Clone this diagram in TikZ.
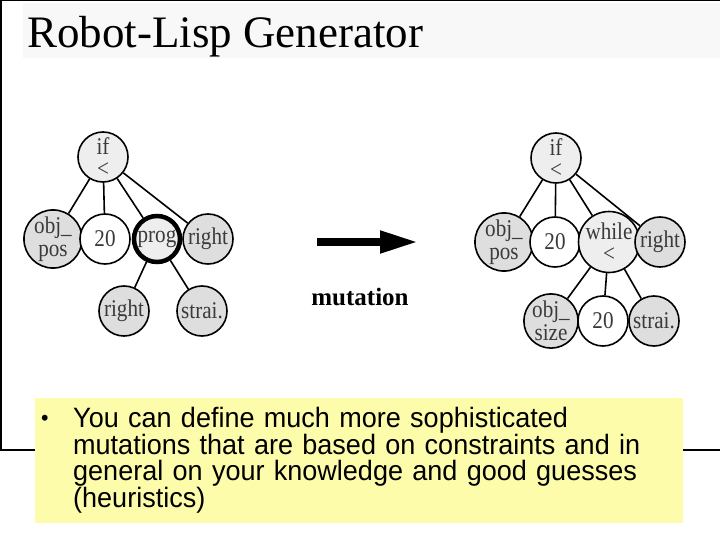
\documentclass[tikz,border=0pt]{standalone}
\usepackage{fontspec}
\setmainfont{Liberation Serif}
\newfontfamily\arialf[FakeStretch=0.965]{Liberation Sans}
\newfontfamily\nodef[FakeStretch=0.88]{Liberation Serif}
\usetikzlibrary{arrows.meta}
\definecolor{titlegray}{HTML}{F8F8F8}
\definecolor{boxyellow}{RGB}{252,252,170}
\definecolor{leafgray}{HTML}{DEDEDE}
\definecolor{innergray}{HTML}{EEEEEE}
\definecolor{txtgray}{HTML}{3A3A3A}
\begin{document}
\begin{tikzpicture}[x=1pt,y=-1pt,
  tn/.style={circle, draw=black, line width=1.6pt, minimum size=50pt, inner sep=0pt,
    font=\nodef\fontsize{24}{22.5}\selectfont, text=txtgray, align=center},
  leaf/.style={tn, fill=leafgray},
  innr/.style={tn, fill=innergray},
  num/.style={tn, fill=white},
  sel/.style={innr, line width=4.5pt, minimum size=46pt},
  edge/.style={line width=1.6pt},
  frame/.style={line width=1.3pt}]
\useasboundingbox (0,0) rectangle (720,540);
% frame and title
\fill[titlegray] (23,3) rectangle (720,58);
\draw[frame] (1,450) -- (1,0.7) -- (720,0.7);
\draw[frame] (0,450) -- (720,450);
\node[anchor=base west, inner sep=0pt, font=\fontsize{45}{50}\selectfont] (title) at (27,48) {Robot-Lisp Generator};
% left tree
\node[innr] (L0) at (103,157) {if\\<};
\node[leaf] (L1) at (53,239) {obj\_\\pos};
\node[num]  (L2) at (105,239) {20};
\node[sel]  (L3) at (157,239) {prog};
\node[leaf] (L4) at (208,239) {right};
\node[leaf] (L5) at (124,311) {right};
\node[leaf] (L6) at (202,311) {strai.};
\foreach \c in {L1,L2,L3,L4} \draw[edge] (L0) -- (\c);
\draw[edge] (L3) -- (L5);
\draw[edge] (L3) -- (L6);
% right tree
\node[innr] (R0) at (556,158) {if\\<};
\node[leaf] (R1) at (504,242) {obj\_\\pos};
\node[num]  (R2) at (555,242) {20};
\node[innr] (R3) at (609,242) {while\\<};
\node[leaf] (R4) at (660,242) {right};
\node[leaf] (R5) at (551,321) {obj\_\\size};
\node[num]  (R6) at (603,321) {20};
\node[leaf] (R7) at (654,321) {strai.};
\foreach \c in {R1,R2,R3,R4} \draw[edge] (R0) -- (\c);
\foreach \c in {R5,R6,R7} \draw[edge] (R3) -- (\c);
% mutation arrow
\coordinate (as) at (317,242);
\coordinate (ae) at (418,242);
\draw[line width=7.7pt, -{Triangle[length=38pt,width=21pt]}] (as) -- (ae);
\node[anchor=base, inner sep=0pt, font=\fontsize{25}{28}\bfseries] (mut) at (360,305) {mutation};
% yellow box
\fill[boxyellow] (35,398) rectangle (683,523);
\node[anchor=base west, inner sep=0pt, font=\arialf\fontsize{22}{26}\selectfont] (bul) at (41,425) {•};
\node[anchor=base west, inner sep=0pt, text width=620pt, align=left,
  font=\arialf\fontsize{28}{26}\selectfont] (txt) at (73,427)
  {You can define much more sophisticated\\mutations that are based on constraints and in\\general on your knowledge and good guesses\\(heuristics)};
\end{tikzpicture}
\end{document}
